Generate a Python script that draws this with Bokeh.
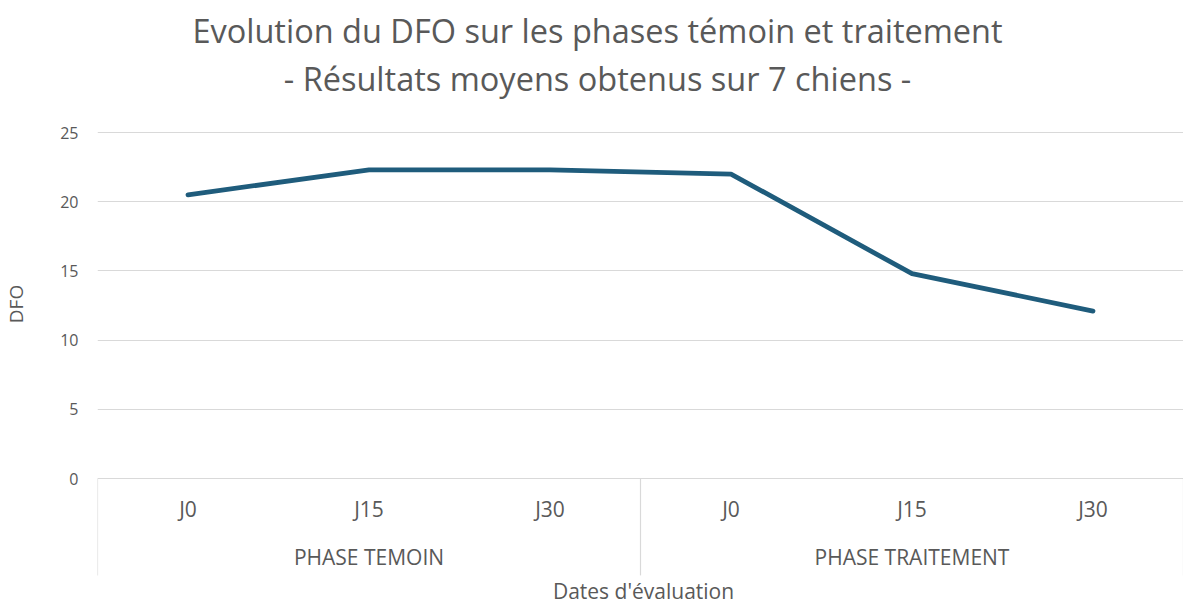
from bokeh.plotting import figure
from bokeh.models import FactorRange, Range1d, FixedTicker, ColumnDataSource, Label
from bokeh.core.properties import value
from bokeh.embed import file_html
from bokeh.resources import INLINE

# ---- data ----
phases = ["PHASE TEMOIN", "PHASE TRAITEMENT"]
days = ["J0", "J15", "J30"]
dfo = [20.5, 22.3, 22.3, 22.0, 14.8, 12.1]
y_ticks = [0, 5, 10, 15, 20, 25]
title_line1 = "Evolution du DFO sur les phases témoin et traitement"
title_line2 = "- Résultats moyens obtenus sur 7 chiens -"
x_label = "Dates d'évaluation"
y_label = "DFO"

factors = [(ph, d) for ph in phases for d in days]

FONT = "Open Sans"
GREY = "#595959"
LINE = "#1F5C7C"
GRID = "#D9D9D9"

W, H = 1183, 607
x_range = FactorRange(factors=factors, group_padding=0, factor_padding=0, range_padding=0)
# frame covers the whole height: the title and category-label bands live inside it
p = figure(x_range=x_range, y_range=Range1d(-9.32, 34.54),
           width=W, height=H, output_backend="svg", toolbar_location=None,
           min_border_left=95, min_border_right=0, min_border_bottom=0, min_border_top=0)
p.outline_line_color = None
p.background_fill_color = "white"
p.border_fill_color = "white"

# y axis (ticks only on the 0..25 value scale)
p.yaxis.ticker = FixedTicker(ticks=y_ticks)
p.yaxis.axis_line_color = None
p.yaxis.major_tick_line_color = None
p.yaxis.minor_tick_line_color = None
p.yaxis.major_label_text_font = FONT
p.yaxis.major_label_text_font_size = "16px"
p.yaxis.major_label_text_color = GREY
p.yaxis.major_label_standoff = 13
p.yaxis.axis_label = y_label
p.yaxis.axis_label_text_font = FONT
p.yaxis.axis_label_text_font_size = "19px"
p.yaxis.axis_label_text_font_style = "normal"
p.yaxis.axis_label_text_color = GREY
p.yaxis.axis_label_standoff = 28

p.ygrid.grid_line_color = GRID
p.ygrid.grid_line_width = 1
p.xgrid.grid_line_color = None
p.xaxis.visible = False

# chart title: two centred lines (screen units, relative to the frame's bottom-left)
for txt, yy in ((title_line1, H - 30), (title_line2, H - 78)):
    p.add_layout(Label(x=500, y=yy, x_units="screen", y_units="screen", text=txt,
                       text_font=FONT, text_font_size="32.5px", text_color=GREY,
                       text_align="center", text_baseline="middle"))

# x axis title
p.add_layout(Label(x=546, y=3, x_units="screen", y_units="screen", text=x_label,
                   text_font=FONT, text_font_size="21px", text_color=GREY,
                   text_align="center", text_baseline="bottom"))

# category label band
sep = ColumnDataSource(dict(
    x=[(phases[0], days[0], -0.5), (phases[1], days[0], -0.5), (phases[-1], days[-1], 0.5)],
    y0=[0, 0, 0], y1=[-7.0, -7.0, -7.0]))
p.segment(x0="x", y0="y0", x1="x", y1="y1", source=sep, line_color=GRID, line_width=1.2)

day_src = ColumnDataSource(dict(x=factors, y=[-2.2] * len(factors), t=[d for _, d in factors]))
p.text(x="x", y="y", text="t", source=day_src, text_font=value(FONT), text_font_size="21px",
       text_color=GREY, text_align="center", text_baseline="middle")
grp_src = ColumnDataSource(dict(x=phases, y=[-5.64] * len(phases), t=phases))
p.text(x="x", y="y", text="t", source=grp_src, text_font=value(FONT), text_font_size="21px",
       text_color=GREY, text_align="center", text_baseline="middle")

# data line
src = ColumnDataSource(dict(x=factors, y=dfo))
p.line(x="x", y="y", source=src, line_color=LINE, line_width=4.8, line_join="round", line_cap="round")

open("out.html", "w").write(file_html(p, INLINE))
